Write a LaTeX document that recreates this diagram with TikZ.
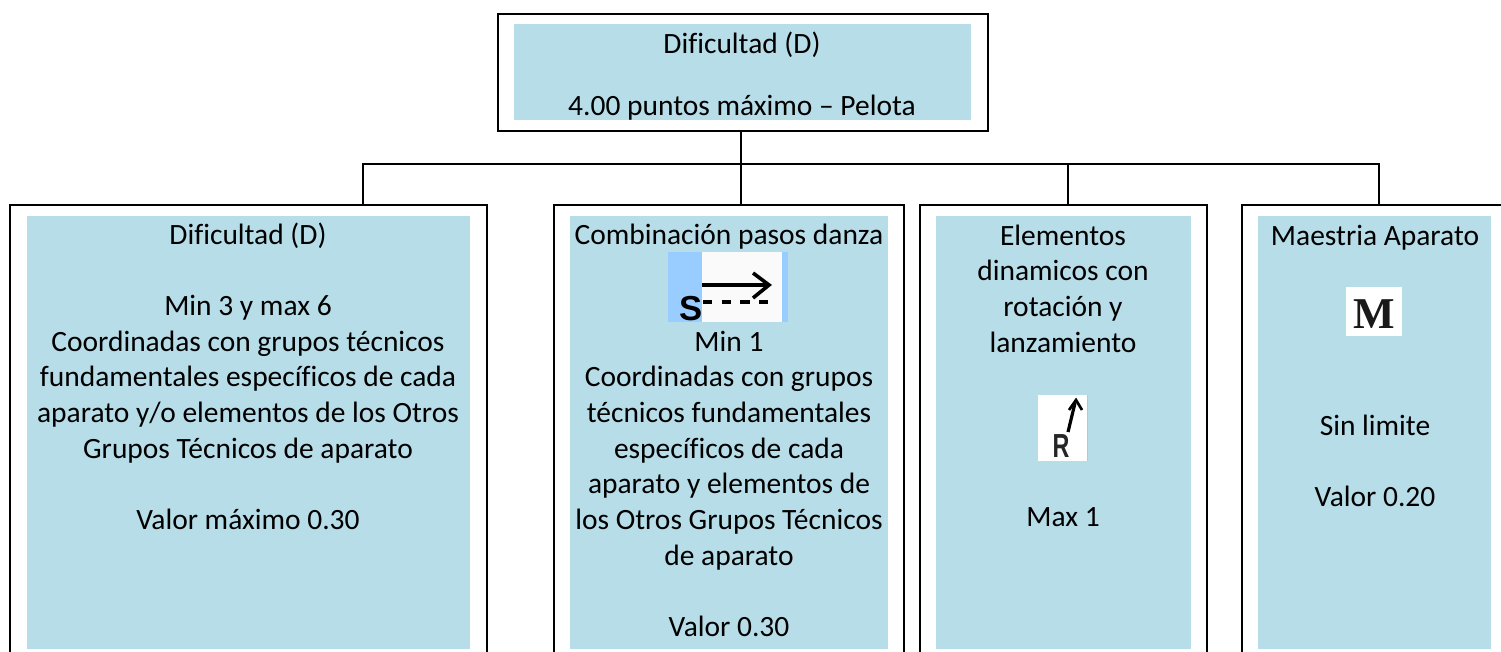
\documentclass[tikz,border=0pt]{standalone}
\usepackage{fontspec}
\setmainfont[Ligatures=NoCommon]{Carlito}
\newfontfamily\iconsans{Liberation Sans}
\newfontfamily\iconserif{Liberation Serif}
\definecolor{panel}{HTML}{B7DDE8}
\definecolor{iconblue}{HTML}{99CCFF}
\tikzset{
  x=0.75pt,y=-0.75pt,
  frame/.style={draw=black,line width=1.5pt,fill=white,inner sep=0pt,outer sep=0pt,anchor=north west},
  panelbox/.style={fill=panel,inner sep=0pt,outer sep=0pt,anchor=north west},
  label/.style={font=\fontsize{22.1pt}{26.75pt}\selectfont,anchor=base,inner sep=0pt,text=black},
  wire/.style={draw=black,line width=1pt},
  iconink/.style={draw=black,line width=2.7pt},
}
\newcommand{\lines}[1]{\begin{tabular}[t]{@{}c@{}}#1\end{tabular}}
\begin{document}
\begin{tikzpicture}
\path[use as bounding box] (0,0) rectangle (1501,652);
\clip (0,0) rectangle (1501,652);
% frames
\node[frame,minimum width=367.5pt,minimum height=87.75pt] (top) at (498,14) {};
\node[frame,minimum width=357.75pt,minimum height=345pt] (f1) at (10,205) {};
\node[frame,minimum width=262.5pt,minimum height=345pt] (f2) at (554,205) {};
\node[frame,minimum width=215.25pt,minimum height=345pt] (f3) at (920,205) {};
\node[frame,minimum width=201pt,minimum height=345pt] (f4) at (1242,205) {};
% panels
\node[panelbox,minimum width=342.75pt,minimum height=72pt] (ptop) at (514,24) {};
\node[panelbox,minimum width=332.25pt,minimum height=324.75pt] (p1) at (27,216) {};
\node[panelbox,minimum width=238.5pt,minimum height=324.75pt] (p2) at (570,216) {};
\node[panelbox,minimum width=191.25pt,minimum height=324.75pt] (p3) at (936,216) {};
\node[panelbox,minimum width=174.75pt,minimum height=324.75pt] (p4) at (1258,216) {};
% connectors
\coordinate (bus) at (741,164);
\coordinate (d1) at (363,205);
\coordinate (d2) at (741,205);
\coordinate (d3) at (1068,205);
\coordinate (d4) at (1379,205);
\draw[wire] (top.south -| bus) -- (d2);
\draw[wire] (d1) -- (d1 |- bus) -- (d4 |- bus) -- (d4);
\draw[wire] (d3 |- bus) -- (d3);
% text
\node[label] (t0) at (742,54) {\lines{Dificultad (D)\\[19.5pt]4.00 puntos máximo – Pelota}};
\node[label] (t1) at (248,244) {\lines{Dificultad (D)\\[26.75pt]Min 3 y max 6\\Coordinadas con grupos técnicos\\fundamentales específicos de cada\\aparato y/o elementos de los Otros\\Grupos Técnicos de aparato\\[26.75pt]Valor máximo 0.30}};
\node[label] (t2a) at (729,244) {Combinación pasos danza};
\node[label] (t2b) at (729,351) {\lines{Min 1\\Coordinadas con grupos\\técnicos fundamentales\\específicos de cada\\aparato y elementos de\\los Otros Grupos Técnicos\\de aparato\\[26.75pt]Valor 0.30}};
\node[label] (t3a) at (1063,245) {\lines{Elementos\\dinamicos con\\rotación y\\lanzamiento}};
\node[label] (t3b) at (1063,526) {Max 1};
\node[label] (t4a) at (1375,245) {Maestria Aparato};
\node[label] (t4b) at (1375,435) {\lines{Sin limite\\[26.75pt]Valor 0.20}};
% icon S
\fill[iconblue] (668,252) rectangle (788,322);
\fill[white!98!black] (702,252) rectangle (782,322);
\draw[iconink] (702,285) -- (767,285);
\draw[iconink] (753,273) -- (769,285) -- (753,298);
\draw[iconink,dash pattern=on 7pt off 7pt] (703,302) -- (770,302);
\node[font=\iconsans\bfseries\fontsize{26pt}{26pt}\selectfont,inner sep=0pt,anchor=base] (iconS) at (691,320) {S};
% icon R
\fill[iconblue] (1038,395) rectangle (1088,461);
\fill[white] (1038,395) rectangle (1087,461);
\node[font=\iconsans\bfseries\fontsize{25pt}{25pt}\selectfont,inner sep=0pt,anchor=base,text=black!85] (iconR) at (1061,457) {\scalebox{0.7}[1]{R}};
\draw[iconink,line width=2.4pt] (1068,432) -- (1075,403);
\draw[iconink,line width=2pt] (1069,410) -- (1076,400) -- (1082,410);
% icon M
\fill[white] (1346,287) rectangle (1402,336);
\node[font=\iconserif\bfseries\fontsize{33pt}{33pt}\selectfont,inner sep=0pt,anchor=base,text=black!90] (iconM) at (1374.5,328) {M};
\end{tikzpicture}
\end{document}
